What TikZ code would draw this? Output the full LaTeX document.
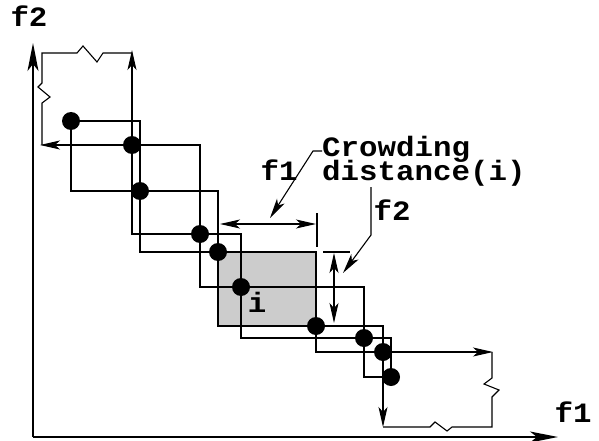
\documentclass[tikz,border=0pt]{standalone}
\usepackage{fontspec}
\setmonofont{Liberation Mono}
\usetikzlibrary{calc}
\usetikzlibrary{arrows.meta}

\tikzset{
  box/.style={black, line width=1.1pt},
  cuboid/.style={black, line width=2.4pt},
  lbl/.style={font=\fontsize{28}{24}\selectfont\ttfamily\bfseries, inner sep=0pt, xscale=1.1},
  tip/.style={-{Stealth[length=20pt, width=9pt, inset=5pt]}, line width=1.1pt},
  dim/.style={{Stealth[length=20pt, width=9pt, inset=5pt]}-{Stealth[length=20pt, width=9pt, inset=5pt]}, line width=1.1pt},
  axis/.style={-{Stealth[length=28pt, width=11pt, inset=7pt]}, line width=1.2pt}
}

\begin{document}
\begin{tikzpicture}[x=1pt, y=-1pt]
\useasboundingbox (0,0) rectangle (599,441);

% solutions of the front
\foreach \n/\x/\y in {1/71/121, 2/132/145, 3/140/191, 4/200/234, 5/218/252,
  6/241/287, 7/316/326, 8/364/338, 9/383/352, 10/391/377}
  \coordinate (p\n) at (\x,\y);

% axes
\coordinate (o) at (33,437);
\draw[axis] (o) -- (558,437);
\draw[axis] (o) -- (33,43);
\node[lbl, anchor=base] (f1ax) at (573,422) {f1};
\node[lbl, anchor=base] (f2ax) at (29,27) {f2};

% cuboid of i
\fill[black!20] (p5) rectangle (p7);
\foreach \i [evaluate=\i as \a using int(\i-1), evaluate=\i as \b using int(\i+1)] in {2,3,4,5,6,7,8,9}
  \draw[box] (p\a) rectangle (p\b);
\draw[cuboid] (p5) rectangle (p7);

% extreme solutions
\draw[tip] (p2) -- (132,50);
\draw[tip] (p2) -- (40,145);
\draw[box] (42,145) -- (42,103) -- (50,97) -- (38,87) -- (42,83) -- (42,53)
  -- (77,53) -- (83,46) -- (97,62) -- (103,53) -- (132,53);
\draw[tip] (p9) -- (493,352);
\draw[tip] (p9) -- (383,427);
\draw[box] (492,352) -- (492,378) -- (484,384) -- (499,390) -- (492,397) -- (492,427)
  -- (452,427) -- (447,431) -- (435,422) -- (430,427) -- (383,427);

\foreach \i in {1,...,10}
  \fill (p\i) circle[radius=9pt];

% crowding distance
\coordinate (d1a) at (220,224);
\coordinate (d1b) at (316,224);
\draw[dim] (d1a) -- (d1b);
\draw[box] (317,213) -- (317,247);
\coordinate (d2a) at (334,253);
\coordinate (d2b) at (334,323);
\draw[dim] (d2a) -- (d2b);
\draw[box] (323,252) -- (350,252);

\node[lbl, anchor=base west, align=left] (cd) at (322,180) {Crowding\\[-4pt]distance(i)};
\node[lbl, anchor=base] (lf1) at (279,180) {f1};
\node[lbl, anchor=base] (lf2) at (392,220) {f2};
\node[lbl, anchor=base] (li) at (257,312) {i};
\coordinate (cdl) at (322,151);
\draw[tip] (cdl) -- (313,151) -- (270,218);
\coordinate (f2l) at (371,187);
\draw[tip] (f2l) -- (371,235) -- (343,273);
\end{tikzpicture}
\end{document}
